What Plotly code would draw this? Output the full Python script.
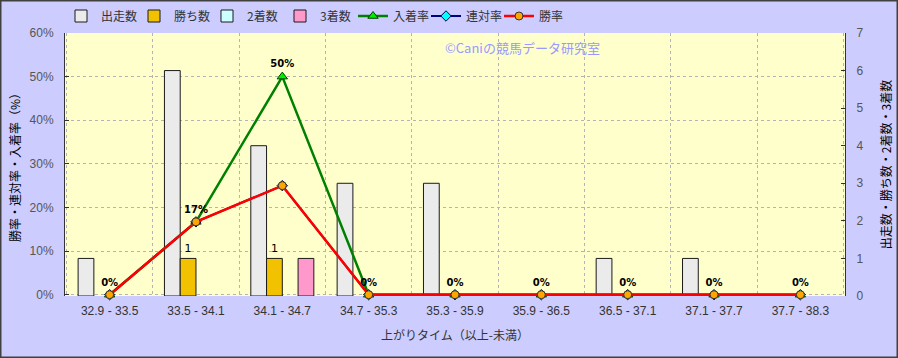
import plotly.graph_objects as go

categories = ["32.9 - 33.5", "33.5 - 34.1", "34.1 - 34.7", "34.7 - 35.3", "35.3 - 35.9",
              "35.9 - 36.5", "36.5 - 37.1", "37.1 - 37.7", "37.7 - 38.3"]
runs = [1, 6, 4, 3, 3, 0, 1, 1, 0]
wins = [0, 1, 1, 0, 0, 0, 0, 0, 0]
seconds = [0, 0, 0, 0, 0, 0, 0, 0, 0]
thirds = [0, 0, 1, 0, 0, 0, 0, 0, 0]
place_rate = [0, 16.7, 50, 0, 0, 0, 0, 0, 0]
rentai_rate = [0, 16.7, 25, 0, 0, 0, 0, 0, 0]
win_rate = [0, 16.7, 25, 0, 0, 0, 0, 0, 0]

W, H = 898, 358
ml, mr, mt, mb = 65, 53, 33, 62
pw, ph = W - ml - mr, H - mt - mb

FONT = "Liberation Sans, Noto Sans CJK JP, sans-serif"
JP = "Noto Sans CJK JP, sans-serif"


def nz(vals):
    # zero-height bars are not drawn (no outline sliver at the baseline)
    return [v if v > 0 else None for v in vals]


bar_line = dict(color="#1a1a1a", width=1)

fig = go.Figure()
fig.add_trace(go.Bar(x=categories, y=nz(runs), name="出走数", yaxis="y",
                     marker=dict(color="#EBEBEB", line=bar_line)))
fig.add_trace(go.Bar(x=categories, y=nz(wins), name="勝ち数", yaxis="y",
                     marker=dict(color="#F2C200", line=bar_line),
                     text=[str(v) if v > 0 else "" for v in wins],
                     textposition="outside", cliponaxis=False,
                     textfont=dict(size=11, color="#000000", family="DejaVu Sans")))
fig.add_trace(go.Bar(x=categories, y=nz(seconds), name="2着数", yaxis="y",
                     marker=dict(color="#CCFFFF", line=bar_line)))
fig.add_trace(go.Bar(x=categories, y=nz(thirds), name="3着数", yaxis="y",
                     marker=dict(color="#FF99CC", line=bar_line)))

fig.add_trace(go.Scatter(x=categories, y=place_rate, name="入着率", yaxis="y2",
                         mode="lines+markers+text",
                         line=dict(color="#008000", width=2.5),
                         marker=dict(symbol="triangle-up", size=9, color="#00EE00",
                                     line=dict(color="#004000", width=1)),
                         text=[f"{round(v)}%" for v in place_rate],
                         textposition="top center", cliponaxis=False,
                         textfont=dict(size=10, color="#000000", family="DejaVu Sans",
                                       weight="bold")))
fig.add_trace(go.Scatter(x=categories, y=rentai_rate, name="連対率", yaxis="y2",
                         mode="lines+markers",
                         line=dict(color="#000080", width=2),
                         marker=dict(symbol="diamond", size=8, color="#00FFFF",
                                     line=dict(color="#000040", width=1)),
                         cliponaxis=False))
fig.add_trace(go.Scatter(x=categories, y=win_rate, name="勝率", yaxis="y2",
                         mode="lines+markers",
                         line=dict(color="#FF0000", width=2.5),
                         marker=dict(symbol="circle", size=8, color="#FFA500",
                                     line=dict(color="#333333", width=1)),
                         cliponaxis=False))

fig.update_layout(
    width=W, height=H,
    margin=dict(l=ml, r=mr, t=mt, b=mb, pad=0, autoexpand=False),
    paper_bgcolor="#CCCCFF",
    plot_bgcolor="#FFFFCC",
    barmode="group", bargap=0.27, bargroupgap=0,
    font=dict(family=FONT, size=12, color="#333333"),
    showlegend=True,
    legend=dict(orientation="h", x=-4 / pw, xanchor="left", y=1 + 17 / ph, yanchor="middle",
                bgcolor="rgba(0,0,0,0)", font=dict(family=JP, size=12, color="#333333"),
                itemwidth=30, entrywidth=28, entrywidthmode="pixels",
                tracegroupgap=0, traceorder="normal"),
    xaxis=dict(type="category", tickson="boundaries", showgrid=True,
               gridcolor="#B4B4B4", griddash="dot", gridwidth=1,
               ticks="", showline=False, ticklabelstandoff=6,
               tickfont=dict(size=12, color="#333333"),
               title=dict(text="上がりタイム（以上-未満）", standoff=14,
                          font=dict(family=JP, size=12, color="#333333"))),
    yaxis=dict(side="right", range=[0, 7], dtick=1, showgrid=False, zeroline=False,
               showline=True, linecolor="#333333", linewidth=1,
               ticks="inside", ticklen=4, tickcolor="#333333", ticklabelstandoff=8,
               tickfont=dict(size=12, color="#555555"),
               title=dict(text="出走数・勝ち数・2着数・3着数", standoff=20,
                          font=dict(family=JP, size=12, color="#000000"))),
    yaxis2=dict(side="left", overlaying="y", range=[-0.3, 60], dtick=10, ticksuffix="%",
                showgrid=True, gridcolor="#B4B4B4", griddash="dot", gridwidth=1,
                zeroline=False, showline=True, linecolor="#333333", linewidth=1,
                ticks="inside", ticklen=4, tickcolor="#333333", ticklabelstandoff=8,
                tickfont=dict(size=12, color="#555555"),
                title=dict(text="勝率・連対率・入着率（%）", standoff=6,
                           font=dict(family=JP, size=12, color="#000000"))),
    annotations=[dict(text="©Caniの競馬データ研究室", xref="paper", yref="paper",
                      x=(443 - ml) / pw, y=1 - (47 - mt) / ph, xanchor="left", yanchor="middle",
                      showarrow=False, font=dict(family=JP, size=13, color="#9999FF"))],
    shapes=[dict(type="rect", xref="paper", yref="paper",
                 x0=-ml / pw + 0.5 / pw, x1=1 + mr / pw - 0.5 / pw,
                 y0=-mb / ph + 0.5 / ph, y1=1 + mt / ph - 0.5 / ph,
                 line=dict(color="#404040", width=2), layer="above")],
)

fig.write_html("out.html")
